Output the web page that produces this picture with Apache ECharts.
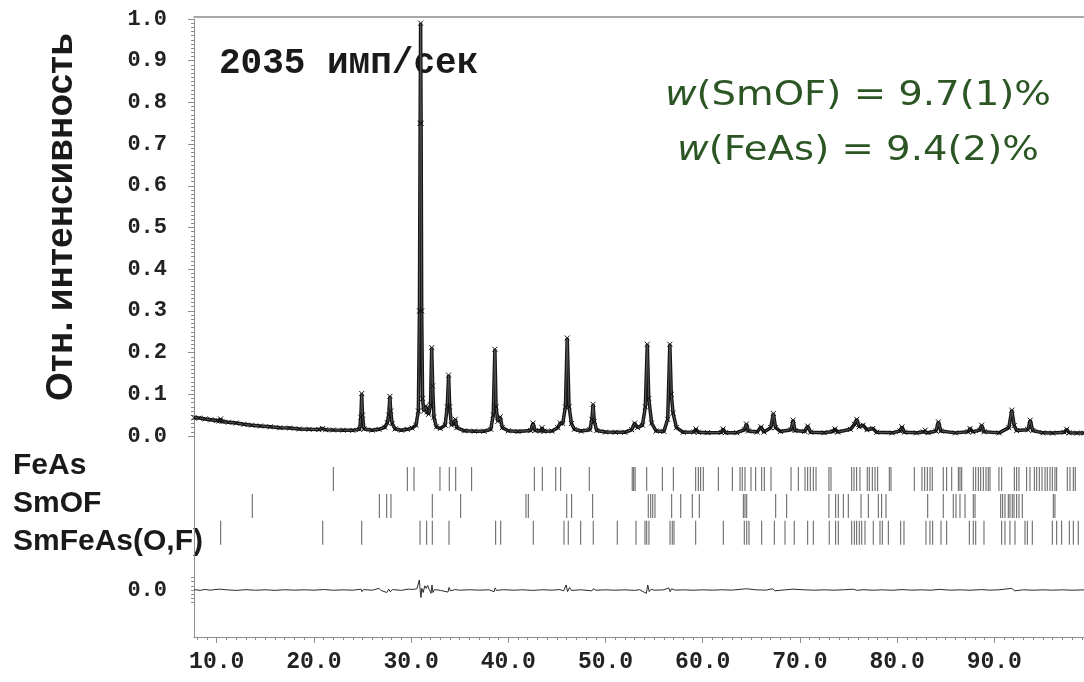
<!DOCTYPE html>
<html><head><meta charset="utf-8">
<script src="https://cdn.jsdelivr.net/npm/echarts@6/dist/echarts.min.js"></script>
<style>html,body{margin:0;padding:0;background:#fff}#c{width:1084px;height:682px}</style>
</head><body><div id="c"></div>
<script>
const profile = [
[7.66,0.044],[8.2,0.043],[8.8,0.041],[9.4,0.039],[10.0,0.037],[10.25,0.036],[10.4,0.041],[10.55,0.035],[11.2,0.033],[12.0,0.031],[12.8,0.028],[13.6,0.026],[14.5,0.024],[15.5,0.022],[16.5,0.020],[17.5,0.019],[18.5,0.017],[19.5,0.016],[20.5,0.0155],[20.9,0.018],[21.2,0.015],[22.0,0.0145],[23.0,0.014],[24.0,0.0135],[24.7,0.016],[24.83,0.045],[24.92,0.102],[25.0,0.05],[25.15,0.017],[26.0,0.014],[26.7,0.016],[27.3,0.021],[27.55,0.032],[27.7,0.05],[27.82,0.095],[27.9,0.06],[28.05,0.03],[28.35,0.017],[29.0,0.014],[29.6,0.016],[30.1,0.019],[30.5,0.026],[30.75,0.06],[30.86,0.3],[30.93,0.75],[30.98,0.99],[31.03,0.75],[31.09,0.3],[31.18,0.09],[31.3,0.06],[31.5,0.072],[31.65,0.058],[31.8,0.052],[32.0,0.075],[32.12,0.212],[32.22,0.12],[32.35,0.045],[32.6,0.022],[33.0,0.018],[33.5,0.026],[33.72,0.07],[33.86,0.146],[33.97,0.07],[34.15,0.026],[34.42,0.03],[34.55,0.04],[34.7,0.02],[35.5,0.0125],[36.5,0.0115],[37.5,0.0115],[38.2,0.016],[38.45,0.05],[38.62,0.208],[38.74,0.07],[38.92,0.035],[39.17,0.046],[39.38,0.02],[40.0,0.0125],[41.0,0.011],[42.3,0.013],[42.55,0.031],[42.75,0.013],[43.3,0.012],[43.47,0.02],[43.65,0.0115],[44.5,0.012],[45.1,0.02],[45.35,0.031],[45.6,0.03],[45.88,0.07],[46.06,0.235],[46.25,0.07],[46.5,0.03],[46.8,0.016],[47.5,0.012],[48.4,0.015],[48.6,0.04],[48.72,0.076],[48.85,0.035],[49.1,0.013],[50.0,0.0095],[51.0,0.009],[52.0,0.009],[52.7,0.015],[53.0,0.031],[53.3,0.02],[53.8,0.026],[54.1,0.07],[54.3,0.22],[54.45,0.09],[54.75,0.031],[55.2,0.012],[56.0,0.011],[56.4,0.04],[56.62,0.22],[56.77,0.1],[56.95,0.055],[57.3,0.02],[58.0,0.009],[59.1,0.0095],[59.3,0.017],[59.55,0.009],[60.5,0.008],[61.9,0.0085],[62.1,0.017],[62.35,0.008],[63.5,0.008],[64.3,0.015],[64.5,0.029],[64.7,0.012],[65.6,0.0095],[66.0,0.022],[66.3,0.0095],[67.0,0.02],[67.27,0.054],[67.5,0.02],[68.0,0.011],[69.1,0.015],[69.3,0.038],[69.5,0.013],[70.5,0.011],[70.8,0.024],[71.1,0.009],[72.5,0.008],[73.4,0.011],[73.6,0.017],[73.9,0.0095],[75.2,0.016],[75.6,0.028],[75.85,0.04],[76.1,0.022],[76.5,0.026],[76.9,0.015],[77.5,0.018],[77.9,0.009],[79.5,0.0075],[80.3,0.012],[80.5,0.022],[80.75,0.009],[82.0,0.0075],[82.7,0.01],[82.9,0.014],[83.2,0.008],[84.0,0.012],[84.25,0.034],[84.5,0.012],[86.0,0.0075],[87.3,0.01],[87.5,0.018],[87.8,0.01],[88.5,0.014],[88.7,0.026],[88.95,0.01],[90.5,0.0075],[91.5,0.02],[91.8,0.062],[92.05,0.025],[92.3,0.013],[93.45,0.015],[93.7,0.038],[93.95,0.013],[95.0,0.0075],[96.0,0.007],[97.2,0.009],[97.45,0.016],[97.7,0.0075],[98.5,0.007],[99.23,0.007]
];
// difference curve (obs - calc)
const diff = [
[7.7,0.001],[8.3,-0.001],[8.8,0.0015],[9.3,-0.0005],[9.8,0.001],[10.3,0.002],[10.5,-0.001],[11,0.0005],[12,-0.001],[13,0.0008],[14,-0.0006],[15,0.0005],[16,-0.0008],[17,0.0006],[18,-0.0004],[19,0.0005],[20,-0.0005],[21,0.0012],[22,-0.0006],[23,0.0004],[24,-0.0005],[24.85,0.002],[24.95,-0.004],[25.1,0.001],[26,-0.0005],[26.7,0.004],[26.9,-0.001],[27.5,-0.006],[27.7,0.002],[27.85,-0.004],[28.1,0.001],[29,-0.0008],[29.7,0.002],[30.2,0.0015],[30.6,0.003],[30.85,0.024],[30.95,-0.005],[31.02,-0.018],[31.1,0.004],[31.25,-0.006],[31.4,0.010],[31.55,0.004],[31.7,0.011],[31.85,0.002],[32.05,-0.008],[32.15,0.012],[32.25,-0.006],[32.4,0.001],[33,-0.0008],[33.8,-0.005],[33.9,0.006],[34.05,-0.002],[34.5,0.001],[35,-0.0005],[36,0.0006],[37,-0.0004],[38,0.0005],[38.55,-0.004],[38.65,0.005],[38.8,-0.001],[39.5,0.0008],[40.5,-0.0005],[41.5,0.0005],[42.5,-0.001],[43.5,0.0006],[44.5,-0.0004],[45.3,0.001],[45.7,-0.002],[45.95,0.012],[46.1,-0.004],[46.3,0.006],[46.5,-0.001],[47.5,0.0005],[48.6,-0.002],[48.75,0.003],[49,-0.0005],[50,0.0004],[51,-0.0005],[52,0.0004],[53,-0.001],[53.5,0.0008],[54.2,-0.008],[54.35,0.012],[54.5,-0.004],[54.7,0.002],[55,-0.0005],[56,0.0004],[56.5,0.005],[56.65,-0.004],[56.8,0.003],[57.2,-0.0005],[58,0.0004],[59,-0.0005],[60,0.0004],[61,-0.0004],[62,0.0005],[63,-0.0003],[64.5,0.003],[64.7,-0.001],[65.5,0.0004],[66.5,-0.0004],[67.2,0.003],[67.4,-0.002],[68.5,0.0004],[69.3,0.002],[69.5,-0.001],[70.5,0.0004],[71.5,-0.0004],[72.5,0.0004],[73.5,-0.0004],[74.5,0.0005],[75.5,0.002],[75.9,-0.001],[76.5,0.0008],[77.5,-0.0005],[78.5,0.0004],[79.5,-0.0006],[80.5,0.001],[81.5,-0.0004],[82.5,0.0004],[83.5,-0.0005],[84.3,0.0015],[85.5,-0.0004],[86.5,0.0004],[87.5,-0.0006],[88.7,0.001],[89.5,-0.0004],[90.5,0.0005],[91.8,0.004],[92.1,-0.002],[93,0.0005],[94,-0.0005],[95,0.0004],[96,-0.0004],[97,0.0004],[98,-0.0005],[99.23,0.0003]
];
// Bragg reflection positions (2θ) of each phase
const feAsTicks = [22.0,29.61,30.30,32.97,33.93,34.59,36.23,42.68,43.50,44.88,45.39,48.33,52.75,52.9,53.05,54.24,55.85,56.98,59.28,59.55,59.79,60.06,61.61,63.05,63.84,64.07,64.35,64.97,65.45,66.07,66.34,67.03,69.09,69.84,70.53,70.80,71.07,71.38,71.66,72.99,73.20,75.33,75.57,75.84,76.18,76.93,77.14,77.45,77.73,78.00,79.20,79.37,81.77,82.56,82.84,83.11,83.39,83.62,84.75,85.10,85.62,86.30,86.47,86.65,87.84,88.09,88.36,88.60,88.87,89.15,89.38,89.56,90.48,90.76,92.06,92.30,92.54,93.33,93.67,94.12,94.36,94.63,94.91,95.22,95.45,95.73,95.97,96.24,96.42,97.51,97.79,98.13,98.33];
const smOFTicks = [13.66,26.73,27.49,27.93,32.18,35.10,41.82,42.06,46.01,46.52,48.68,54.40,54.65,54.86,55.09,56.81,57.74,58.93,59.65,64.18,64.35,64.53,67.51,68.64,72.99,73.68,73.95,74.47,74.98,76.29,77.04,78.07,78.41,78.86,83.15,84.75,85.78,86.06,86.47,86.99,87.84,88.02,90.66,90.86,91.10,91.44,91.61,91.85,92.03,92.30,92.54,92.88,96.07,96.24];
const smFeAsTicks = [10.41,20.91,24.92,30.92,31.60,32.18,33.90,38.70,39.22,42.57,45.73,46.17,47.45,48.74,51.21,53.14,54.06,54.24,54.47,56.64,56.87,57.05,59.28,62.12,64.28,64.53,64.76,66.07,67.37,68.47,69.42,70.80,71.38,73.02,73.68,73.95,75.33,75.60,75.84,76.11,76.36,76.70,77.55,78.24,78.48,79.10,80.37,80.71,82.97,83.38,83.66,84.52,85.10,87.43,87.84,88.09,88.94,90.76,91.10,91.61,92.13,93.16,93.40,93.91,95.97,96.42,96.93,97.72,98.13,98.64];
const phaseNames = ['FeAs','SmOF','SmFeAs(O,F)'];
const xTicks = [10,20,30,40,50,60,70,80,90];
const xMinorTicks = [8,9,11,12,13,14,15,16,17,18,19,21,22,23,24,25,26,27,28,29,31,32,33,34,35,36,37,38,39,41,42,43,44,45,46,47,48,49,51,52,53,54,55,56,57,58,59,61,62,63,64,65,66,67,68,69,71,72,73,74,75,76,77,78,79,81,82,83,84,85,86,87,88,89,91,92,93,94,95,96,97,98,99];
const diffTicks = [-0.03,-0.02,-0.01,0,0.01,0.02,0.03];

const X_MIN = 7.665, X_MAX = 99.23;
const rowY = [0.266, 0.2014, 0.1374];
const grey = '#8c8c8c';
const mono = 'Liberation Mono';
const chart = echarts.init(document.getElementById('c'), null, {renderer:'canvas'});
const cross = 'path://M0,0L10,10M10,0L0,10';
function tickSeries(arr, i){
  return {type:'scatter', xAxisIndex:1, yAxisIndex:1, symbol:'rect', symbolSize:[1,24],
    itemStyle:{color:'#333'}, silent:true, animation:false,
    data: arr.map(v=>[v,rowY[i]])};
}
const greenFont = '33px "DejaVu Sans", Verdana, sans-serif';
const greenItal = 'italic 33px "DejaVu Sans", Verdana, sans-serif';
chart.setOption({
  animation:false,
  grid:[
    {left:194, right:0, top:19, height:417},
    {left:194, right:0, top:436, height:201}
  ],
  xAxis:[
    {gridIndex:0, type:'value', min:X_MIN, max:X_MAX, show:false},
    {gridIndex:1, type:'value', min:X_MIN, max:X_MAX, position:'bottom',
      axisLine:{show:true, onZero:false, lineStyle:{color:grey, width:1}},
      axisTick:{show:true, length:6, customValues:xTicks, lineStyle:{color:grey}},
      axisLabel:{show:true, customValues:xTicks, formatter:v=>v.toFixed(1), margin:14,
        fontFamily:mono, fontWeight:'bold', fontSize:23, color:'#222'},
      splitLine:{show:false}},
    {gridIndex:1, type:'value', min:X_MIN, max:X_MAX, position:'bottom',
      axisLine:{show:false, onZero:false}, axisTick:{show:true, length:3, customValues:xMinorTicks, lineStyle:{color:grey}},
      axisLabel:{show:false}, splitLine:{show:false}},
    {gridIndex:0, type:'value', min:X_MIN, max:X_MAX, position:'top', offset:2,
      axisLine:{show:true, onZero:false, lineStyle:{color:grey, width:1.5}}, axisTick:{show:false},
      axisLabel:{show:false}, splitLine:{show:false}}
  ],
  yAxis:[
    {gridIndex:0, type:'value', min:0, max:1, interval:0.1,
      axisLine:{show:true, onZero:false, lineStyle:{color:grey, width:1}},
      axisTick:{show:true, length:6, lineStyle:{color:grey}},
      minorTick:{show:true, splitNumber:10, length:3, lineStyle:{color:grey}},
      axisLabel:{formatter:v=>v.toFixed(1), margin:27, fontFamily:mono, fontWeight:'bold', fontSize:22, color:'#222'},
      splitLine:{show:false}},
    {gridIndex:1, type:'value', min:-0.1127, max:0.3693,
      axisLine:{show:true, onZero:false, lineStyle:{color:grey, width:1}},
      axisTick:{show:true, length:3, customValues:diffTicks, lineStyle:{color:grey}},
      axisLabel:{show:true, customValues:[0], formatter:()=> '0.0', margin:27, fontFamily:mono, fontWeight:'bold', fontSize:22, color:'#222'},
      splitLine:{show:false}},
    {gridIndex:1, type:'value', min:-0.1127, max:0.3693,
      axisLine:{show:false, onZero:false}, axisTick:{show:true, length:6, customValues:[0], lineStyle:{color:grey}},
      axisLabel:{show:false}, splitLine:{show:false}}
  ],
  graphic:[
    {type:'text', x:62, y:217, rotation:Math.PI/2, style:{text:'Отн. интенсивность', align:'center', verticalAlign:'middle',
      font:'bold 37px "Liberation Sans", Arial, sans-serif', fill:'#1a1a1a'}},
    {type:'text', x:13, y:466, style:{text:phaseNames[0], align:'left', verticalAlign:'middle', font:'bold 30px "Liberation Sans", Arial, sans-serif', fill:'#1a1a1a'}},
    {type:'text', x:13, y:504, style:{text:phaseNames[1], align:'left', verticalAlign:'middle', font:'bold 30px "Liberation Sans", Arial, sans-serif', fill:'#1a1a1a'}},
    {type:'text', x:13, y:542, style:{text:phaseNames[2], align:'left', verticalAlign:'middle', font:'bold 30px "Liberation Sans", Arial, sans-serif', fill:'#1a1a1a'}},
    {type:'text', x:219, y:64, style:{text:'2035 имп/сек', align:'left', verticalAlign:'middle', font:'bold 36px "Liberation Mono", monospace', fill:'#1a1a1a'}},
    {type:'text', x:858, y:96, scaleX:1.17, originX:0, originY:0, style:{text:'{i|w}(SmOF) = 9.7(1)%', align:'center', verticalAlign:'middle', font:greenFont, fill:'#2b5624',
      rich:{i:{font:greenItal, fill:'#2b5624'}}}},
    {type:'text', x:858, y:151, scaleX:1.17, originX:0, originY:0, style:{text:'{i|w}(FeAs) = 9.4(2)%', align:'center', verticalAlign:'middle', font:greenFont, fill:'#2b5624',
      rich:{i:{font:greenItal, fill:'#2b5624'}}}}
  ],
  series:[
    tickSeries(feAsTicks,0), tickSeries(smOFTicks,1), tickSeries(smFeAsTicks,2),
    {type:'line', xAxisIndex:1, yAxisIndex:1, data:diff, symbol:'none', lineStyle:{color:'#2a2a2a', width:1}, silent:true},
    {type:'line', xAxisIndex:0, yAxisIndex:0, data:profile, symbol:cross, symbolSize:5, showAllSymbol:true,
      itemStyle:{color:'none', borderColor:'#111', borderWidth:1},
      lineStyle:{color:'#151515', width:3.5}, silent:true},
    {type:'line', xAxisIndex:0, yAxisIndex:0, data:profile, symbol:'none', lineStyle:{color:'#555', width:1}, silent:true}
  ]
});
</script></body></html>
